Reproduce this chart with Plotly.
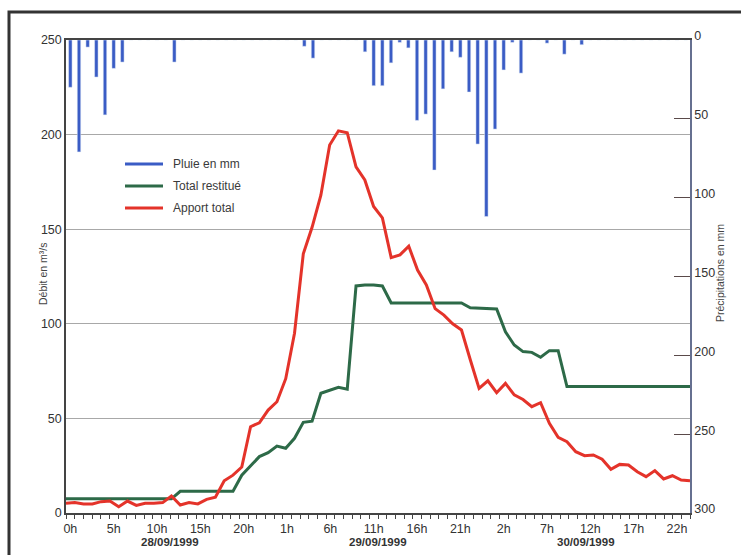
import plotly.graph_objects as go

# ---------------- data ----------------
hours = list(range(72))  # hourly, 28/09/1999 0h -> 30/09/1999 23h

apport_total = [5.1, 5.5, 4.8, 4.8, 6.0, 6.3, 3.3, 6.3, 4.0, 5.1, 5.1, 5.5, 9.0, 4.2, 5.5, 4.8,
                7.2, 8.3, 17.0, 20.0, 24.3, 45.6, 47.7, 54.4, 58.8, 71.0, 95.0, 137.0, 151.0, 168.0,
                194.5, 202.0, 201.0, 183.0, 176.0, 162.0, 156.0, 135.0, 136.4, 141.0, 128.4, 120.5,
                108.0, 104.6, 100.0, 96.7, 81.0, 65.9, 69.9, 63.6, 68.5, 62.4, 60.0, 56.2, 58.3,
                47.4, 40.0, 37.7, 32.4, 30.3, 30.7, 28.4, 23.1, 25.7, 25.4, 21.8, 19.2, 22.4, 18.0,
                19.7, 17.4, 17.1]

total_restitue = [7.5, 7.5, 7.5, 7.5, 7.5, 7.5, 7.5, 7.5, 7.5, 7.5, 7.5, 7.5, 7.5,
                  11.5, 11.5, 11.5, 11.5, 11.5, 11.5, 11.5,
                  20.0, 25.0, 29.8, 31.9, 35.4, 34.2, 39.5, 47.9, 48.5, 63.3, 65.0, 66.4, 65.4,
                  120.0, 120.5, 120.5, 120.0, 111.0, 111.0, 111.0, 111.0, 111.0, 111.0, 111.0,
                  111.0, 111.0, 108.5, 108.2, 108.0, 107.8, 95.8, 88.8, 85.3, 84.9, 82.3, 85.8,
                  85.8, 66.8, 66.8, 66.8, 66.8, 66.8, 66.8, 66.8, 66.8, 66.8, 66.8, 66.8, 66.8,
                  66.8, 66.8, 66.8]

pluie_mm = [30, 71, 4.5, 23.5, 47.5, 18, 14, 0, 0, 0, 0, 0, 14, 0, 0, 0, 0, 0, 0, 0,
            0, 0, 0, 0, 0, 0, 0, 4, 11.5, 0, 0, 0, 0, 0, 7.5, 29, 29, 14.5, 1.5, 5,
            51, 47, 82.5, 31, 7.5, 11, 33, 66, 112, 56.5, 19, 1.5, 21, 0, 0, 2, 0, 9, 0, 3,
            0, 0, 0, 0, 0, 0, 0, 0, 0, 0, 0, 0]

tick_hours = [0, 5, 10, 15, 20, 25, 30, 35, 40, 45, 50, 55, 60, 65, 70]
tick_labels = ["0h", "5h", "10h", "15h", "20h", "1h", "6h", "11h", "16h", "21h",
               "2h", "7h", "12h", "17h", "22h"]
day_labels = ["28/09/1999", "29/09/1999", "30/09/1999"]
day_centers = [12, 36, 60]

series_names = ["Pluie en mm", "Total restitué", "Apport total"]
series_colors = ["#3a5cc5", "#2d6a48", "#e4332a"]

# ---------------- figure ----------------
fig = go.Figure()

# rain bars: hourly categories centred between hour ticks, hanging from the top (reversed axis)
fig.add_trace(go.Bar(
    x=[h + 0.5 for h in hours], y=pluie_mm, xaxis="x2", yaxis="y2",
    marker=dict(color=series_colors[0]), width=0.4,
    showlegend=False, name=series_names[0]))

# discharge lines: points on the hour marks across the full width
fig.add_trace(go.Scatter(
    x=hours, y=total_restitue, xaxis="x", yaxis="y", mode="lines",
    line=dict(color=series_colors[1], width=3), showlegend=False, name=series_names[1]))
fig.add_trace(go.Scatter(
    x=hours, y=apport_total, xaxis="x", yaxis="y", mode="lines",
    line=dict(color=series_colors[2], width=3), showlegend=False, name=series_names[2]))

FONT = "Liberation Sans, Arial, sans-serif"

L, R, T, B = 66, 51, 40, 42
W, H = 741, 555
pw, ph = W - L - R, H - T - B


def px(xp):
    return (xp - L) / pw


def py(yp):
    return (H - B - yp) / ph


fig.update_layout(
    width=W, height=H,
    margin=dict(l=L, r=R, t=T, b=B),
    paper_bgcolor="white", plot_bgcolor="white",
    font=dict(family=FONT, size=12, color="#333"),
    xaxis=dict(range=[0, 71], showticklabels=False, ticks="", showgrid=False,
               zeroline=False, showline=False, fixedrange=True),
    xaxis2=dict(
        range=[0, 72], overlaying="x", anchor="y", side="bottom",
        tickvals=[h + 0.5 for h in tick_hours], ticktext=tick_labels,
        ticks="outside", ticklen=3, tickcolor="rgba(0,0,0,0)",
        minor=dict(dtick=1, tick0=0, ticks="outside", ticklen=4, tickcolor="#444",
                   tickwidth=1, showgrid=False),
        showgrid=False, zeroline=False, showline=True, linecolor="#444", linewidth=1.5,
        mirror=True, tickfont=dict(size=12.5, color="#333"), fixedrange=True),
    yaxis=dict(
        range=[0, 250], tickvals=[0, 50, 100, 150, 200, 250], showgrid=True,
        gridcolor="#a8a8a8", gridwidth=1, zeroline=False, showline=True,
        linecolor="#444", linewidth=1.5, ticks="", tickfont=dict(size=12.5, color="#333"),
        fixedrange=True),
    yaxis2=dict(
        range=[300, 0], tickvals=[0, 50, 100, 150, 200, 250, 300], overlaying="y",
        anchor="x2", side="right", showgrid=False, zeroline=False, showline=True,
        linecolor="#667090", linewidth=1.5, ticks="inside", ticklen=16,
        tickcolor="#5a4a4a", tickwidth=1, tickfont=dict(size=12.5, color="#333"),
        ticklabelshift=4, fixedrange=True),
)

annotations = []
for lab, c in zip(day_labels, day_centers):
    annotations.append(dict(
        x=c, xref="x2", y=py(542), yref="paper", text="<b>" + lab + "</b>",
        showarrow=False, font=dict(size=11.5, color="#333"), xanchor="center",
        yanchor="middle"))

annotations.append(dict(
    x=px(43), y=py(274), xref="paper", yref="paper", text="Débit en m³/s",
    textangle=-90, showarrow=False, font=dict(size=10.5, color="#444"),
    xanchor="center", yanchor="middle"))
annotations.append(dict(
    x=px(720), y=py(273), xref="paper", yref="paper", text="Précipitations en mm",
    textangle=-90, showarrow=False, font=dict(size=10.5, color="#444"),
    xanchor="center", yanchor="middle"))

shapes = []
legend_rows = [164, 186, 208]
for name, col, ry in zip(series_names, series_colors, legend_rows):
    shapes.append(dict(type="line", xref="paper", yref="paper",
                       x0=px(125), x1=px(163), y0=py(ry), y1=py(ry),
                       line=dict(color=col, width=3)))
    annotations.append(dict(
        x=px(171), y=py(ry), xref="paper", yref="paper", text=name, showarrow=False,
        font=dict(size=12, color="#3a3a3a"), xanchor="left", yanchor="middle"))

# outer frame of the figure
shapes.append(dict(type="rect", xref="paper", yref="paper",
                   x0=px(9), x1=px(748), y0=py(565), y1=py(12),
                   line=dict(color="#333", width=3), fillcolor="rgba(0,0,0,0)", layer="above"))

fig.update_layout(annotations=annotations, shapes=shapes)

fig.write_html("out.html", config={"displayModeBar": False},
               post_script="document.body.style.margin='0';")
